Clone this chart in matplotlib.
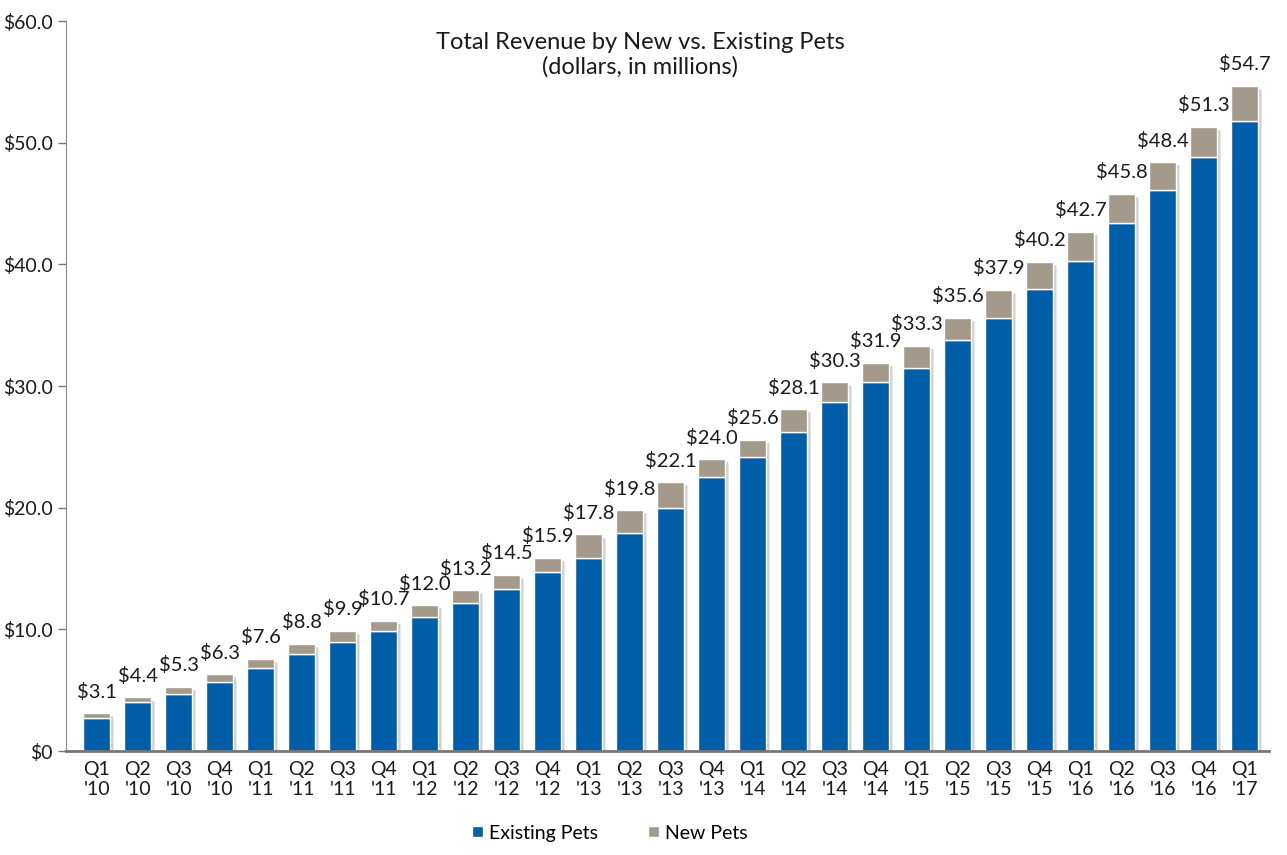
import matplotlib.pyplot as plt
import numpy as np

# quarters and values (dollars, in millions)
quarters = ["Q1\n'10", "Q2\n'10", "Q3\n'10", "Q4\n'10",
            "Q1\n'11", "Q2\n'11", "Q3\n'11", "Q4\n'11",
            "Q1\n'12", "Q2\n'12", "Q3\n'12", "Q4\n'12",
            "Q1\n'13", "Q2\n'13", "Q3\n'13", "Q4\n'13",
            "Q1\n'14", "Q2\n'14", "Q3\n'14", "Q4\n'14",
            "Q1\n'15", "Q2\n'15", "Q3\n'15", "Q4\n'15",
            "Q1\n'16", "Q2\n'16", "Q3\n'16", "Q4\n'16",
            "Q1\n'17"]
totals = [3.1, 4.4, 5.3, 6.3, 7.6, 8.8, 9.9, 10.7, 12.0, 13.2, 14.5, 15.9,
          17.8, 19.8, 22.1, 24.0, 25.6, 28.1, 30.3, 31.9, 33.3, 35.6, 37.9,
          40.2, 42.7, 45.8, 48.4, 51.3, 54.7]
existing = [2.7, 4.0, 4.7, 5.7, 6.8, 8.0, 9.0, 9.9, 11.0, 12.2, 13.3, 14.7,
            15.9, 17.9, 20.0, 22.5, 24.2, 26.2, 28.7, 30.3, 31.5, 33.8, 35.6,
            38.0, 40.3, 43.4, 46.1, 48.8, 51.8]
new_pets = [round(t - e, 1) for t, e in zip(totals, existing)]

plt.rcParams['font.family'] = ['Lato', 'DejaVu Sans']
txt_color = '#1a1a1a'
blue = '#005DA8'
gray = '#A39A8B'

fig = plt.figure(figsize=(12.87, 8.55), dpi=100)
ax = fig.add_axes([0.0513, 0.1216, 0.935, 0.8538])

x = np.arange(len(quarters))
w = 0.66

# soft drop shadow
ax.bar(x + 0.10, totals, w, bottom=-0.35, color='#e6e6e6', zorder=1)
ax.bar(x + 0.06, totals, w, bottom=-0.25, color='#d2d2d2', zorder=1)
ax.bar(x, existing, w, color=blue, edgecolor='white', linewidth=1,
       label='Existing Pets', zorder=2)
ax.bar(x, new_pets, w, bottom=existing, color=gray, edgecolor='white',
       linewidth=1, label='New Pets', zorder=2)

for xi, t in zip(x, totals):
    ax.annotate(f'${t:.1f}', (xi, t), xytext=(0, 9), textcoords='offset points',
                ha='center', va='bottom', fontsize=14.5, color=txt_color)

ax.set_xlim(-0.75, 28.6)
ax.set_ylim(0, 60)
ax.set_yticks(np.arange(0, 61, 10))
ax.set_yticklabels(['$0'] + [f'${v:.1f}' for v in range(10, 61, 10)])
ax.set_xticks(x)
ax.set_xticklabels(quarters)
ax.tick_params(axis='y', labelsize=14, colors='#777777', labelcolor=txt_color,
               length=6, width=1)
ax.tick_params(axis='x', labelsize=14, labelcolor=txt_color, length=0, pad=7)

for s in ['top', 'right']:
    ax.spines[s].set_visible(False)
ax.spines['left'].set_color('#888888')
ax.spines['bottom'].set_color('#777777')
ax.spines['bottom'].set_linewidth(2)

fig.text(640 / 1287, 1 - 55 / 855, 'Total Revenue by New vs. Existing Pets\n(dollars, in millions)',
         ha='center', va='center', fontsize=17, color=txt_color, linespacing=1.15)

handles, labels = ax.get_legend_handles_labels()
fig.legend(handles, labels, loc='center', bbox_to_anchor=(610 / 1287, 22 / 855),
           ncol=2, frameon=False, fontsize=14, handlelength=0.55, handleheight=0.55,
           columnspacing=2.6, handletextpad=0.3)

plt.savefig('out.png', dpi=100)
